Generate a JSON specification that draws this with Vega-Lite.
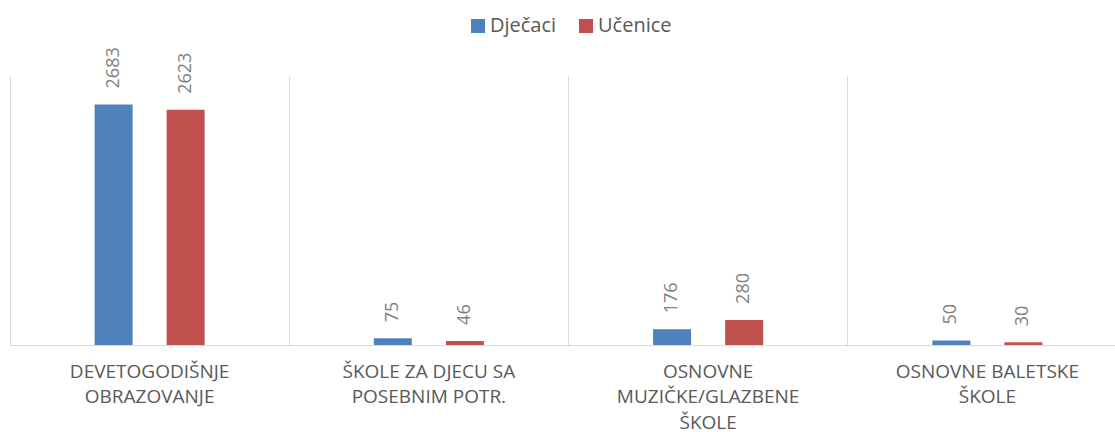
{
  "$schema": "https://vega.github.io/schema/vega-lite/v6.json",
  "width": 1105,
  "height": 269,
  "autosize": {"type": "none"},
  "padding": {"left": 10, "top": 76, "right": 0, "bottom": 87},
  "background": "white",
  "config": {"view": {"stroke": null}, "font": "Open Sans"},
  "data": {
    "values": [
      {"kategorija": "DEVETOGODIŠNJE OBRAZOVANJE", "serija": "Dječaci", "broj": 2683},
      {"kategorija": "DEVETOGODIŠNJE OBRAZOVANJE", "serija": "Učenice", "broj": 2623},
      {"kategorija": "ŠKOLE ZA DJECU SA POSEBNIM POTR.", "serija": "Dječaci", "broj": 75},
      {"kategorija": "ŠKOLE ZA DJECU SA POSEBNIM POTR.", "serija": "Učenice", "broj": 46},
      {"kategorija": "OSNOVNE MUZIČKE/GLAZBENE ŠKOLE", "serija": "Dječaci", "broj": 176},
      {"kategorija": "OSNOVNE MUZIČKE/GLAZBENE ŠKOLE", "serija": "Učenice", "broj": 280},
      {"kategorija": "OSNOVNE BALETSKE ŠKOLE", "serija": "Dječaci", "broj": 50},
      {"kategorija": "OSNOVNE BALETSKE ŠKOLE", "serija": "Učenice", "broj": 30}
    ]
  },
  "encoding": {
    "x": {
      "field": "kategorija",
      "type": "nominal",
      "sort": null,
      "scale": {"range": [0, 1117], "paddingInner": 0, "paddingOuter": 0},
      "axis": {
        "title": null,
        "bandPosition": 0,
        "grid": true,
        "gridColor": "#d9d9d9",
        "gridWidth": 1,
        "ticks": false,
        "domainColor": "#d9d9d9",
        "domainWidth": 1,
        "labelAngle": 0,
        "labelFontSize": 19,
        "labelColor": "#595959",
        "labelFont": "Open Sans",
        "labelLimit": 400,
        "labelOverlap": false,
        "labelPadding": 17,
        "labelLineHeight": 25.5,
        "labelBaseline": "top",
        "labelExpr": "datum.value == 'DEVETOGODIŠNJE OBRAZOVANJE' ? ['DEVETOGODIŠNJE', 'OBRAZOVANJE'] : datum.value == 'ŠKOLE ZA DJECU SA POSEBNIM POTR.' ? ['ŠKOLE ZA DJECU SA', 'POSEBNIM POTR.'] : datum.value == 'OSNOVNE MUZIČKE/GLAZBENE ŠKOLE' ? ['OSNOVNE', 'MUZIČKE/GLAZBENE', 'ŠKOLE'] : ['OSNOVNE BALETSKE', 'ŠKOLE']"
      }
    },
    "xOffset": {
      "field": "serija",
      "type": "nominal",
      "sort": ["Dječaci", "Učenice"],
      "scale": {"paddingInner": 0, "paddingOuter": 0.9375}
    },
    "y": {
      "field": "broj",
      "type": "quantitative",
      "scale": {"domain": [0, 3000], "nice": false},
      "axis": null
    }
  },
  "layer": [
    {
      "mark": {"type": "bar", "width": 38},
      "encoding": {
        "color": {
          "field": "serija",
          "type": "nominal",
          "sort": ["Dječaci", "Učenice"],
          "scale": {"domain": ["Dječaci", "Učenice"], "range": ["#4F81BD", "#C0504D"]},
          "legend": {
            "title": null,
            "orient": "none",
            "direction": "horizontal",
            "legendX": 458,
            "legendY": -60,
            "padding": 0,
            "symbolType": "square",
            "symbolSize": 196,
            "symbolStrokeWidth": 0,
            "labelFontSize": 20,
            "labelFont": "Open Sans",
            "labelColor": "#595959",
            "labelOffset": 2,
            "columnPadding": 19
          }
        }
      }
    },
    {
      "mark": {
        "type": "text",
        "angle": 270,
        "align": "left",
        "baseline": "middle",
        "dx": 16,
        "fontSize": 18,
        "font": "Open Sans",
        "color": "#7f7f7f"
      },
      "encoding": {
        "text": {"field": "broj", "type": "quantitative"}
      }
    }
  ]
}
